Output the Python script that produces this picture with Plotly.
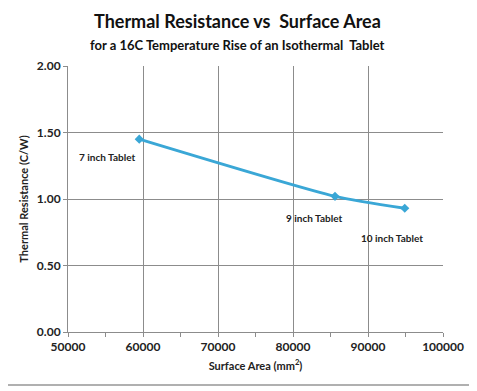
import plotly.graph_objects as go

areas = [59500, 85600, 94900]
resistances = [1.45, 1.02, 0.93]
labels = ["7 inch Tablet", "9 inch Tablet", "10 inch Tablet"]
label_dx = [-32, -21, -13]
label_dy = [-18, -22, -30]

FONT = "Lato"
fig = go.Figure()
fig.add_trace(go.Scatter(
    x=areas, y=resistances, mode="lines+markers",
    line=dict(color="#3aa7d6", width=3, shape="spline", smoothing=0.6),
    marker=dict(symbol="diamond", size=7, color="#3aa7d6"),
    hoverinfo="skip", showlegend=False,
))
for xv, yv, t, dx, dy in zip(areas, resistances, labels, label_dx, label_dy):
    fig.add_annotation(x=xv, y=yv, text=f"<b>{t}</b>", showarrow=False,
                       xshift=dx, yshift=dy, font=dict(family=FONT, size=10, color="#222"))

fig.add_annotation(xref="paper", yref="paper", x=0.451, y=1.0, yshift=45,
                   text="<b>Thermal Resistance vs  Surface Area</b>", showarrow=False,
                   xanchor="center", yanchor="middle",
                   font=dict(family=FONT, size=18, color="#111"))
fig.add_annotation(xref="paper", yref="paper", x=0.451, y=1.0, yshift=21,
                   text="<b>for a 16C Temperature Rise of an Isothermal  Tablet</b>", showarrow=False,
                   xanchor="center", yanchor="middle",
                   font=dict(family=FONT, size=13, color="#111"))

fig.add_shape(type="rect", xref="paper", yref="paper", x0=-0.3, x1=1.077, y0=-0.199, y1=1.4,
              line=dict(color="#b0b0b0", width=2), layer="above")

fig.update_xaxes(range=[50000, 100000], dtick=10000, tickformat="d", automargin=False,
                 showgrid=True, gridcolor="#8c8c8c", gridwidth=1,
                 showline=True, linecolor="#8c8c8c", ticks="outside", ticklen=4, tickcolor="#8c8c8c",
                 minor=dict(dtick=5000, ticks="outside", ticklen=4, tickcolor="#8c8c8c", showgrid=False),
                 tickfont=dict(family=FONT, size=12, color="#222", weight="bold"),
                 title=dict(text="<b>Surface Area (mm<sup>2</sup>)</b>", standoff=8,
                            font=dict(family=FONT, size=11, color="#222")),
                 zeroline=False, mirror=False)
fig.update_yaxes(range=[0, 2.0], dtick=0.5, tickformat=".2f", automargin=False,
                 showgrid=True, gridcolor="#8c8c8c", gridwidth=1,
                 showline=True, linecolor="#8c8c8c", ticks="outside", ticklen=4, tickcolor="#8c8c8c",
                 tickfont=dict(family=FONT, size=12, color="#222", weight="bold"),
                 title=dict(text="<b>Thermal Resistance (C/W)</b>", standoff=6,
                            font=dict(family=FONT, size=11, color="#222")),
                 zeroline=False)
fig.update_layout(width=469, height=383, margin=dict(l=60, r=34, t=58, b=59),
                  paper_bgcolor="white", plot_bgcolor="white")
fig.write_html("out.html")
